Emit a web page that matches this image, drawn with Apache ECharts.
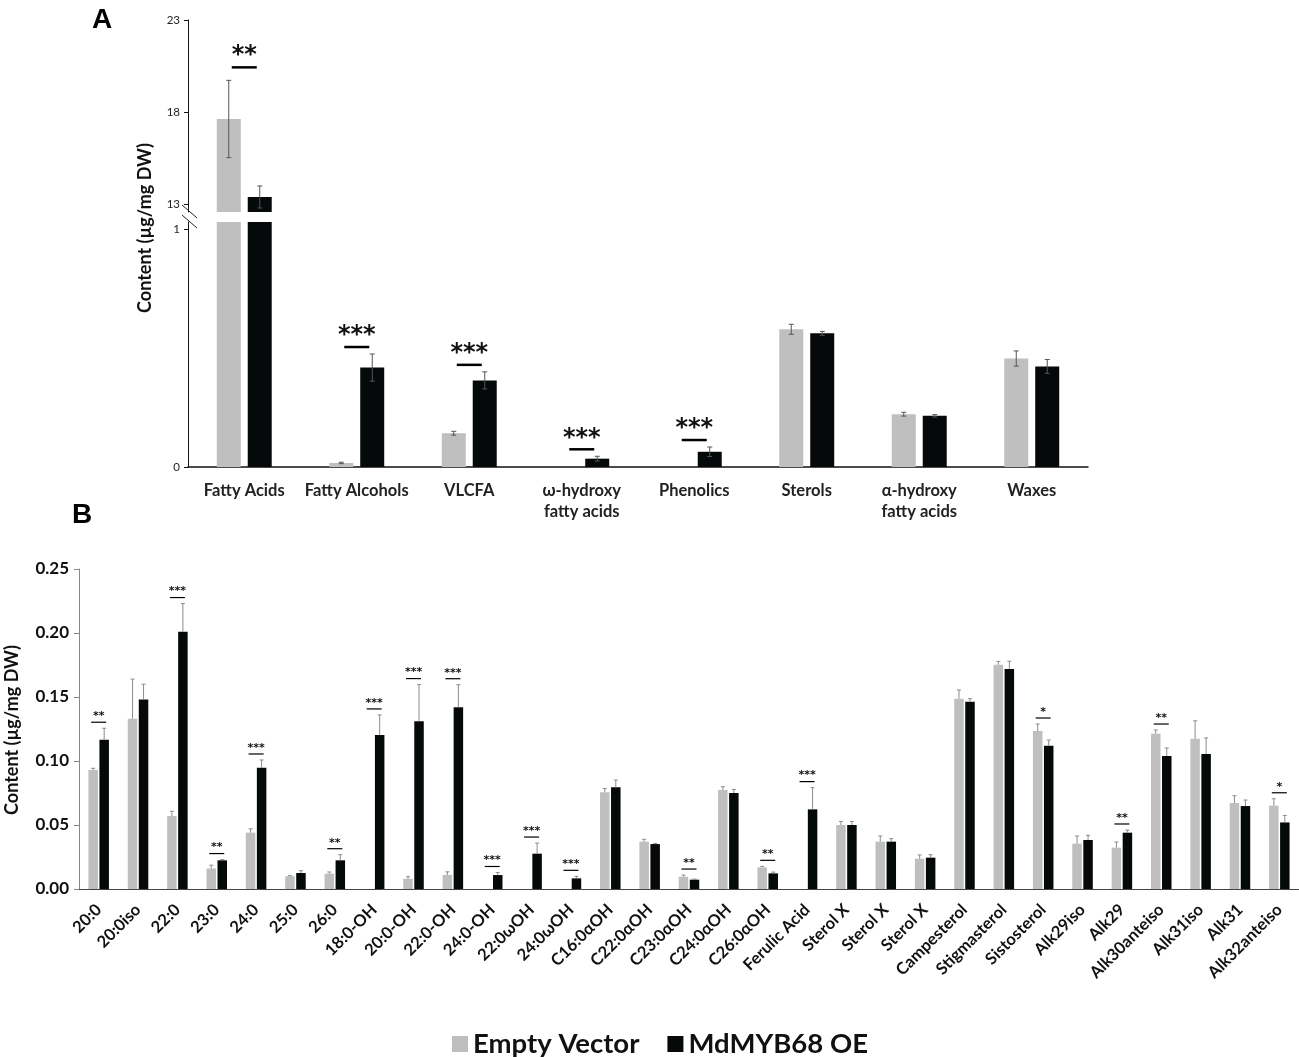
<!DOCTYPE html>
<html>
<head>
<meta charset="utf-8">
<script src="https://cdn.jsdelivr.net/npm/echarts@6/dist/echarts.min.js"></script>
<style>
    html, body { margin: 0; padding: 0; background: #fff; }
    #chart { width: 1299px; height: 1057px; }
</style>
</head>
<body>
<div id="chart"></div>
<script>
// 图A：分类汇总
var catsA = ['Fatty Acids', 'Fatty Alcohols', 'VLCFA', 'ω-hydroxy\nfatty acids', 'Phenolics', 'Sterols', 'α-hydroxy\nfatty acids', 'Waxes'];
var evA = [17.62, 0.017, 0.142, 0, 0, 0.579, 0.222, 0.456];
var evErrA = [2.1, 0.003, 0.008, 0, 0, 0.021, 0.008, 0.032];
var oeA = [13.38, 0.418, 0.364, 0.035, 0.064, 0.562, 0.215, 0.423];
var oeErrA = [0.6, 0.057, 0.036, 0.01, 0.02, 0.008, 0.005, 0.029];
var sigA = ['**', '***', '***', '***', '***', '', '', ''];
var ticksLowA = [0, 1];
var ticksUpA = [13, 18, 23];

// 图B：单个组分
var catsB = ['20:0', '20:0iso', '22:0', '23:0', '24:0', '25:0', '26:0', '18:0-OH', '20:0-OH', '22:0-OH',
    '24:0-OH', '22:0ωOH', '24:0ωOH', 'C16:0αOH', 'C22:0αOH', 'C23:0αOH', 'C24:0αOH', 'C26:0αOH',
    'Ferulic Acid', 'Sterol X', 'Sterol X', 'Sterol X', 'Campesterol', 'Stigmasterol', 'Sistosterol',
    'Alk29iso', 'Alk29', 'Alk30anteiso', 'Alk31iso', 'Alk31', 'Alk32anteiso'];
var evB = [0.093, 0.133, 0.057, 0.016, 0.044, 0.010, 0.012, 0, 0.008, 0.011,
    0, 0, 0, 0.0755, 0.037, 0.0096, 0.0773, 0.0169,
    0, 0.050, 0.037, 0.0237, 0.1487, 0.1752, 0.1234,
    0.0354, 0.0323, 0.1213, 0.1174, 0.0672, 0.0651];
var evErrB = [0.0013, 0.031, 0.0037, 0.0026, 0.003, 0.0004, 0.0013, 0, 0.0016, 0.0024,
    0, 0, 0, 0.003, 0.0018, 0.0013, 0.0026, 0.0008,
    0, 0.0028, 0.0044, 0.0029, 0.0068, 0.0026, 0.0055,
    0.006, 0.0044, 0.0029, 0.014, 0.0057, 0.0054];
var oeB = [0.1166, 0.148, 0.201, 0.0224, 0.0948, 0.0125, 0.0224, 0.1203, 0.131, 0.1419,
    0.0109, 0.0276, 0.0083, 0.0794, 0.0351, 0.0073, 0.075, 0.0122,
    0.0622, 0.050, 0.037, 0.0245, 0.1463, 0.1719, 0.112,
    0.0383, 0.044, 0.1039, 0.1055, 0.0648, 0.052];
var oeErrB = [0.009, 0.012, 0.022, 0.0006, 0.006, 0.0018, 0.0044, 0.0157, 0.0287, 0.0177,
    0.002, 0.0083, 0.0016, 0.0057, 0.0005, 0.0005, 0.0028, 0.001,
    0.017, 0.0028, 0.0023, 0.0023, 0.0024, 0.006, 0.0044,
    0.0036, 0.0021, 0.0063, 0.0125, 0.0047, 0.0055];
var sigB = ['**', '', '***', '**', '***', '', '**', '***', '***', '***',
    '***', '***', '***', '', '', '**', '', '**',
    '***', '', '', '', '', '', '*',
    '', '**', '**', '', '', '*'];

var EV_COLOR = '#bfbfbf';
var OE_COLOR = '#060909';
var FONT = 'Lato, "Open Sans", sans-serif';
var STAR_FONT = '"DejaVu Sans", sans-serif';

// 断轴范围
var lowMaxA = 1.03;
var upMinA = 12.565;
var upMaxA = 23;

// 误差线数据
function errData(ev, evErr, oe, oeErr, keep) {
    var out = [];
    for (var i = 0; i < ev.length; i++) {
        if (evErr[i] > 0 && keep(ev[i])) out.push([i, ev[i], evErr[i], 0]);
        if (oeErr[i] > 0 && keep(oe[i])) out.push([i, oe[i], oeErr[i], 1]);
    }
    return out;
}

// 显著性标注数据
function sigData(ev, evErr, oe, oeErr, sig, keep) {
    var out = [];
    for (var i = 0; i < sig.length; i++) {
        if (!sig[i]) continue;
        var top = Math.max(ev[i] + evErr[i], oe[i] + oeErr[i]);
        if (keep(top)) out.push([i, top]);
    }
    return out;
}

function errRender(offset, cap, twoSided, color) {
    return function (params, api) {
        var c = api.value(0), v = api.value(1), e = api.value(2), s = api.value(3);
        var top = api.coord([c, v + e]);
        var bot = api.coord([c, twoSided ? v - e : v]);
        var x = top[0] + (s === 0 ? -offset : offset);
        var style = { stroke: color, lineWidth: 1 };
        var children = [
            { type: 'line', shape: { x1: x, y1: top[1], x2: x, y2: bot[1] }, style: style },
            { type: 'line', shape: { x1: x - cap, y1: top[1], x2: x + cap, y2: top[1] }, style: style }
        ];
        if (twoSided) {
            children.push({ type: 'line', shape: { x1: x - cap, y1: bot[1], x2: x + cap, y2: bot[1] }, style: style });
        }
        return { type: 'group', children: children };
    };
}

function sigRender(labels, lineGap, halfLen, lineW, textGap, fontSize) {
    return function (params, api) {
        var i = api.value(0);
        var p = api.coord([i, api.value(1)]);
        var y = p[1] - lineGap;
        return {
            type: 'group',
            children: [
                { type: 'line', shape: { x1: p[0] - halfLen, y1: y, x2: p[0] + halfLen, y2: y },
                  style: { stroke: '#000', lineWidth: lineW } },
                { type: 'text', style: { text: labels[i], x: p[0], y: y - textGap, align: 'center',
                  verticalAlign: 'middle', fill: '#111', font: 'bold ' + fontSize + 'px ' + STAR_FONT } }
            ]
        };
    };
}

var inLow = function (v) { return v <= lowMaxA; };
var inUp = function (v) { return v > 13; };
var always = function () { return true; };

var myChart = echarts.init(document.getElementById('chart'));

var option = {
    backgroundColor: '#fff',
    animation: false,
    textStyle: { fontFamily: FONT },
    legend: {
        data: ['Empty Vector', 'MdMYB68 OE'],
        left: 447,
        top: 1025,
        itemWidth: 16,
        itemHeight: 16,
        itemGap: 28,
        icon: 'rect',
        textStyle: { fontSize: 27.5, fontWeight: 'bold', color: '#111', fontFamily: FONT }
    },
    grid: [
        { left: 188, right: 211, top: 222, bottom: 590 },
        { left: 188, right: 211, top: 20, bottom: 845 },
        { left: 79, right: 0, top: 569, bottom: 168 }
    ],
    xAxis: [
        {
            gridIndex: 0, type: 'category', data: catsA,
            axisLine: { lineStyle: { color: '#111', width: 1.5 } },
            axisTick: { show: false },
            axisLabel: { interval: 0, margin: 13, fontSize: 16.5, fontWeight: 'bold', color: '#222', lineHeight: 21 }
        },
        {
            gridIndex: 1, type: 'category', data: catsA,
            axisLine: { show: false }, axisTick: { show: false }, axisLabel: { show: false }
        },
        {
            gridIndex: 2, type: 'category', data: catsB,
            axisLine: { lineStyle: { color: '#444', width: 1 } },
            axisTick: { length: 6, lineStyle: { color: '#444' } },
            axisLabel: { interval: 0, rotate: 45, margin: 18, fontSize: 16.5, fontWeight: 'bold', color: '#111' }
        }
    ],
    yAxis: [
        {
            gridIndex: 0, type: 'value', min: 0, max: lowMaxA,
            splitLine: { show: false },
            axisLine: { show: true, lineStyle: { color: '#111', width: 1 } },
            axisTick: { show: true, length: 4, customValues: ticksLowA, lineStyle: { color: '#111' } },
            axisLabel: { customValues: ticksLowA, fontSize: 11.5, color: '#222', margin: 8 }
        },
        {
            gridIndex: 1, type: 'value', min: upMinA, max: upMaxA,
            splitLine: { show: false },
            axisLine: { show: true, lineStyle: { color: '#111', width: 1 } },
            axisTick: { show: true, length: 4, customValues: ticksUpA, lineStyle: { color: '#111' } },
            axisLabel: { customValues: ticksUpA, fontSize: 11.5, color: '#222', margin: 8 }
        },
        {
            gridIndex: 2, type: 'value', min: 0, max: 0.25, interval: 0.05,
            splitLine: { show: false },
            axisLine: { show: true, lineStyle: { color: '#888', width: 1 } },
            axisTick: { show: true, length: 5, lineStyle: { color: '#888' } },
            axisLabel: {
                fontSize: 17, fontWeight: 'bold', color: '#111', margin: 10,
                formatter: function (v) { return v.toFixed(2); }
            }
        }
    ],
    series: [
        { name: 'Empty Vector', type: 'bar', xAxisIndex: 0, yAxisIndex: 0, barWidth: 24, barGap: '29%',
          itemStyle: { color: EV_COLOR }, data: evA.map(function (v) { return Math.min(v, lowMaxA); }) },
        { name: 'MdMYB68 OE', type: 'bar', xAxisIndex: 0, yAxisIndex: 0, barWidth: 24, barGap: '29%',
          itemStyle: { color: OE_COLOR }, data: oeA.map(function (v) { return Math.min(v, lowMaxA); }) },
        { name: 'Empty Vector', type: 'bar', xAxisIndex: 1, yAxisIndex: 1, barWidth: 24, barGap: '29%',
          itemStyle: { color: EV_COLOR }, data: evA.map(function (v) { return inUp(v) ? v : '-'; }) },
        { name: 'MdMYB68 OE', type: 'bar', xAxisIndex: 1, yAxisIndex: 1, barWidth: 24, barGap: '29%',
          itemStyle: { color: OE_COLOR }, data: oeA.map(function (v) { return inUp(v) ? v : '-'; }) },
        { name: 'Empty Vector', type: 'bar', xAxisIndex: 2, yAxisIndex: 2, barWidth: 9.5, barGap: '16%',
          itemStyle: { color: EV_COLOR }, data: evB },
        { name: 'MdMYB68 OE', type: 'bar', xAxisIndex: 2, yAxisIndex: 2, barWidth: 9.5, barGap: '16%',
          itemStyle: { color: OE_COLOR }, data: oeB },
        // 误差线
        { type: 'custom', xAxisIndex: 0, yAxisIndex: 0, z: 5, silent: true,
          renderItem: errRender(15.5, 2.5, true, '#555'),
          data: errData(evA, evErrA, oeA, oeErrA, inLow) },
        { type: 'custom', xAxisIndex: 1, yAxisIndex: 1, z: 5, silent: true,
          renderItem: errRender(15.5, 2.5, true, '#555'),
          data: errData(evA, evErrA, oeA, oeErrA, inUp) },
        { type: 'custom', xAxisIndex: 2, yAxisIndex: 2, z: 5, silent: true,
          renderItem: errRender(5.5, 2, false, '#8c8c8c'),
          data: errData(evB, evErrB, oeB, oeErrB, always) },
        // 显著性
        { type: 'custom', xAxisIndex: 0, yAxisIndex: 0, z: 6, silent: true,
          renderItem: sigRender(sigA, 7, 12.5, 2.5, 11, 24),
          data: sigData(evA, evErrA, oeA, oeErrA, sigA, inLow) },
        { type: 'custom', xAxisIndex: 1, yAxisIndex: 1, z: 6, silent: true,
          renderItem: sigRender(sigA, 13, 12.5, 2.5, 12, 24),
          data: sigData(evA, evErrA, oeA, oeErrA, sigA, inUp) },
        { type: 'custom', xAxisIndex: 2, yAxisIndex: 2, z: 6, silent: true,
          renderItem: sigRender(sigB, 6, 7.5, 1.2, 6, 11),
          data: sigData(evB, evErrB, oeB, oeErrB, sigB, always) }
    ],
    graphic: [
        { type: 'text', left: 92, top: 6,
          style: { text: 'A', font: 'bold 28px "Liberation Sans", Arial, sans-serif', fill: '#000' } },
        { type: 'text', left: 72, top: 501,
          style: { text: 'B', font: 'bold 28px "Liberation Sans", Arial, sans-serif', fill: '#000' } },
        { type: 'text', x: 145, y: 228, rotation: Math.PI / 2,
          style: { text: 'Content (µg/mg DW)', font: 'bold 18px ' + FONT, fill: '#111',
                   align: 'center', verticalAlign: 'middle' } },
        { type: 'text', x: 12, y: 730, rotation: Math.PI / 2,
          style: { text: 'Content (µg/mg DW)', font: 'bold 18px ' + FONT, fill: '#111',
                   align: 'center', verticalAlign: 'middle' } },
        // 断轴标记
        { type: 'rect', shape: { x: 184, y: 209, width: 10, height: 14 }, style: { fill: '#fff' } },
        { type: 'line', shape: { x1: 182, y1: 205, x2: 197, y2: 218 }, style: { stroke: '#222', lineWidth: 1 } },
        { type: 'line', shape: { x1: 182, y1: 215, x2: 197, y2: 228 }, style: { stroke: '#222', lineWidth: 1 } }
    ]
};

myChart.setOption(option);
</script>
</body>
</html>
